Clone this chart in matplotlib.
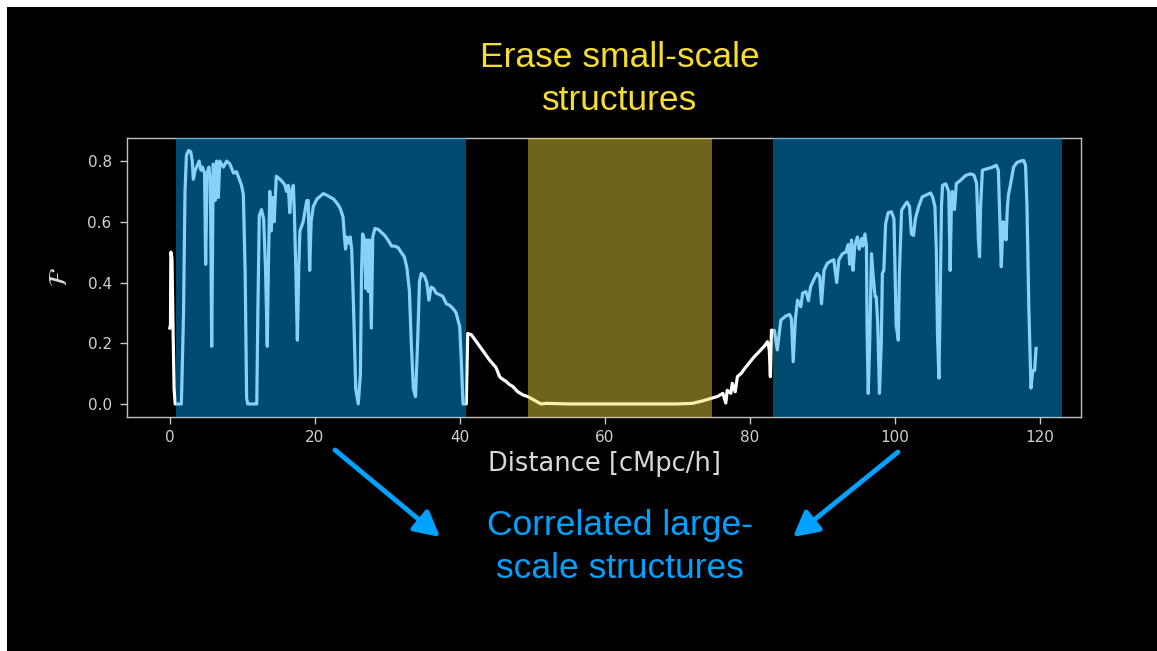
import matplotlib
matplotlib.use("Agg")
import matplotlib.pyplot as plt
from matplotlib.patches import Rectangle

# ---- data ----
distance = [
    0.0, 0.1, 0.15, 0.3, 0.45, 0.6, 0.75, 1.6,
    1.9, 2.1, 2.3, 2.6, 2.9, 3.1, 3.25, 3.5, 3.7, 4.05, 4.3, 4.5, 4.8, 4.95, 5.15, 5.4, 5.6, 5.78,
    6.0, 6.25, 6.45, 6.7, 6.9, 7.4, 7.85, 8.3, 8.8, 9.2, 9.6, 9.9, 10.15, 10.4, 10.6, 10.75, 12.0,
    12.15, 12.35, 12.65, 12.95, 13.2, 13.45, 13.6, 13.8, 14.0, 14.2, 14.4, 14.7, 15.2, 15.6, 15.9,
    16.1, 16.35, 16.55, 16.75, 17.05, 17.2, 17.4, 17.6, 17.8, 17.95, 18.4, 18.9, 19.1, 19.3, 19.5,
    19.8, 20.3, 21.2, 21.7, 22.2, 22.6, 23.1, 23.5, 23.9, 24.1, 24.25, 24.45, 24.7, 24.9, 25.1,
    25.35, 25.65, 26.0, 26.3, 26.45, 26.6, 26.85, 27.05, 27.2, 27.4, 27.55, 27.8, 28.0, 28.3,
    28.75, 29.2, 29.65, 30.1, 30.6, 31.0, 31.5, 31.9, 32.35, 32.7, 33.05, 33.3, 33.6, 33.9, 34.2,
    34.45, 34.7, 35.15, 35.45, 35.75, 36.05, 36.4, 36.75, 37.2, 37.65, 38.15, 38.6, 39.05, 39.5,
    40.0, 40.2, 40.45,
    40.9, 41.1, 41.6, 42.3, 43.2, 44.1, 45.0, 45.5, 45.7, 46.4, 46.9, 47.3, 48.0, 48.7, 49.4,
    50.3, 51.2, 52.0, 55.0, 60.0, 65.0, 70.0, 72.1, 73.5, 74.9, 75.6, 76.3, 76.7, 76.9, 77.4,
    77.6, 78.0, 78.3, 78.8, 79.25, 79.9, 80.6, 81.3, 82.0, 82.45, 82.7, 82.85, 83.0, 83.4, 83.8,
    84.3, 85.0, 85.5, 85.75, 86.0, 86.3, 86.6, 87.05, 87.3, 87.75, 88.1, 88.4, 88.85, 89.3,
    89.65, 89.9, 90.25, 90.7, 91.15, 91.6, 92.0, 92.3, 92.8, 93.25, 93.6, 93.8, 94.05, 94.25,
    94.5, 94.85, 95.1, 95.45, 95.6, 95.9, 96.1, 96.2, 96.35, 96.55, 96.8, 97.0, 97.3, 97.45,
    97.65, 97.9, 98.15, 98.3, 98.5, 98.75, 99.1, 99.55, 99.9, 100.05, 100.2, 100.5, 100.65,
    100.95, 101.4, 101.7, 102.05, 102.3, 102.6, 102.85, 103.3, 103.8, 104.5, 104.95, 105.25,
    105.55, 105.75, 105.9, 106.1, 106.25, 106.45, 106.6, 107.05, 107.45, 107.65, 107.8, 107.95,
    108.25, 108.5, 109.1, 109.8, 110.5, 110.95, 111.3, 111.55, 111.7, 111.85, 112.1, 112.8,
    113.5, 114.0, 114.3, 114.45, 114.6, 114.7, 114.95, 115.2, 115.35, 115.55, 115.7, 115.95,
    116.4, 116.85, 117.35, 117.8, 118.05, 118.25, 118.5, 118.8, 119.05, 119.3, 119.5,
]
flux = [
    0.25, 0.26, 0.50, 0.48, 0.25, 0.05, 0.0, 0.0,
    0.30, 0.70, 0.82, 0.835, 0.83, 0.80, 0.74, 0.77, 0.78, 0.80, 0.77, 0.78, 0.76, 0.46, 0.76, 0.78, 0.74, 0.19,
    0.79, 0.67, 0.80, 0.68, 0.80, 0.78, 0.80, 0.79, 0.76, 0.765, 0.74, 0.72, 0.69, 0.43, 0.02, 0.0, 0.0,
    0.30, 0.62, 0.64, 0.61, 0.45, 0.19, 0.45, 0.70, 0.57, 0.68, 0.60, 0.75, 0.74, 0.73, 0.72,
    0.70, 0.72, 0.63, 0.70, 0.72, 0.62, 0.43, 0.21, 0.45, 0.57, 0.60, 0.67, 0.67, 0.44, 0.60,
    0.65, 0.675, 0.693, 0.687, 0.68, 0.675, 0.66, 0.645, 0.616, 0.55, 0.51, 0.55, 0.53, 0.55, 0.507,
    0.32, 0.05, 0.0, 0.10, 0.43, 0.56, 0.54, 0.38, 0.54, 0.37, 0.54, 0.25, 0.55, 0.578,
    0.575, 0.565, 0.555, 0.54, 0.52, 0.52, 0.515, 0.50, 0.485, 0.45, 0.375, 0.21, 0.05, 0.024, 0.21,
    0.405, 0.43, 0.42, 0.40, 0.342, 0.385, 0.38, 0.365, 0.36, 0.355, 0.33, 0.325, 0.315, 0.30,
    0.254, 0.15, 0.0,
    0.0, 0.232, 0.228, 0.205, 0.175, 0.145, 0.12, 0.09, 0.085, 0.074, 0.063, 0.058, 0.04, 0.03, 0.024,
    0.012, 0.0, 0.002, 0.0, 0.0, 0.0, 0.0, 0.002, 0.01, 0.02, 0.025, 0.035, 0.003, 0.045, 0.035,
    0.068, 0.04, 0.09, 0.10, 0.115, 0.134, 0.155, 0.172, 0.19, 0.205, 0.18, 0.09, 0.243, 0.242, 0.178,
    0.276, 0.29, 0.295, 0.28, 0.139, 0.28, 0.342, 0.32, 0.365, 0.37, 0.34, 0.386, 0.41, 0.43,
    0.42, 0.33, 0.44, 0.463, 0.47, 0.475, 0.40, 0.475, 0.495, 0.50, 0.525, 0.46, 0.54, 0.44,
    0.52, 0.55, 0.51, 0.545, 0.52, 0.56, 0.52, 0.23, 0.035, 0.20, 0.495, 0.43, 0.353, 0.353,
    0.27, 0.035, 0.20, 0.43, 0.44, 0.594, 0.63, 0.633, 0.61, 0.43, 0.26, 0.21, 0.43,
    0.638, 0.655, 0.665, 0.65, 0.56, 0.555, 0.61, 0.65, 0.682, 0.69, 0.695, 0.68,
    0.65, 0.50, 0.23, 0.085, 0.30, 0.65, 0.72, 0.725, 0.70, 0.44, 0.63, 0.70,
    0.64, 0.726, 0.737, 0.753, 0.758, 0.753, 0.726, 0.54, 0.485, 0.65, 0.77, 0.775,
    0.78, 0.786, 0.77, 0.65, 0.52, 0.452, 0.60, 0.595, 0.54, 0.65, 0.69, 0.72,
    0.78, 0.795, 0.80, 0.802, 0.786, 0.65, 0.32, 0.052, 0.11, 0.11, 0.183,
]

x_ticks = [0, 20, 40, 60, 80, 100, 120]
y_ticks = [0.0, 0.2, 0.4, 0.6, 0.8]

# highlighted regions (distance ranges)
large_scale_regions = [(0.9, 40.8), (83.2, 123.1)]
small_scale_region = (49.4, 74.8)

title_top = "Erase small-scale\nstructures"
title_bottom = "Correlated large-\nscale structures"
x_label = "Distance [cMpc/h]"
y_label = r"$\mathcal{F}$"

# ---- figure ----
W, H = 1157, 651
fig = plt.figure(figsize=(W / 100, H / 100), dpi=100, facecolor="white")
# black slide area (thin white border at top/left)
fig.patches.append(Rectangle((7 / W, 0), 1 - 7 / W, 1 - 7 / H, transform=fig.transFigure,
                             facecolor="black", edgecolor="none", zorder=-10))

ax = fig.add_axes([127 / W, 1 - 417 / H, (1081 - 127) / W, (417 - 138) / H])
ax.set_facecolor("black")

ax.plot(distance, flux, color="white", lw=2.3, zorder=2, solid_joinstyle="round")

for lo, hi in large_scale_regions:
    ax.axvspan(lo, hi, color="#009DEE", alpha=0.47, lw=0, zorder=3)
ax.axvspan(small_scale_region[0], small_scale_region[1], color="#FBDC40", alpha=0.45, lw=0, zorder=3)

ax.set_xlim(-5.9, 125.7)
ax.set_ylim(-0.043, 0.876)
ax.set_xticks(x_ticks)
ax.set_yticks(y_ticks)
ax.set_yticklabels([f"{v:.1f}" for v in y_ticks])

for s in ax.spines.values():
    s.set_color("#c0c0c0")
    s.set_linewidth(1.0)
ax.tick_params(axis="both", colors="#c8c8c8", labelcolor="#d0d0d0", labelsize=11, length=5, width=1)
ax.tick_params(axis="y", pad=6)
ax.tick_params(axis="x", pad=4)

ax.set_xlabel(x_label, color="#d8d8d8", fontsize=18.5, labelpad=5)
ax.set_ylabel(y_label, color="#d8d8d8", fontsize=18, labelpad=11)

fig.text(620 / W, 1 - 79 / H, title_top, color="#F5DC32", fontsize=25.5, family="Liberation Sans",
         ha="center", va="center", linespacing=1.38)
fig.text(620 / W, 1 - 547 / H, title_bottom, color="#00A2FF", fontsize=25.5, family="Liberation Sans",
         ha="center", va="center", linespacing=1.36)

arrow_kw = dict(arrowstyle="-|>,head_length=1.5,head_width=0.8", color="#00A2FF", lw=3.5,
                shrinkA=0, shrinkB=0)
ax.annotate("", xy=(440, H - 537), xytext=(335, H - 450), xycoords="figure pixels",
            textcoords="figure pixels", arrowprops=arrow_kw, annotation_clip=False)
ax.annotate("", xy=(793, H - 537), xytext=(898, H - 452), xycoords="figure pixels",
            textcoords="figure pixels", arrowprops=arrow_kw, annotation_clip=False)

fig.savefig("out.png", dpi=100, facecolor="white")
